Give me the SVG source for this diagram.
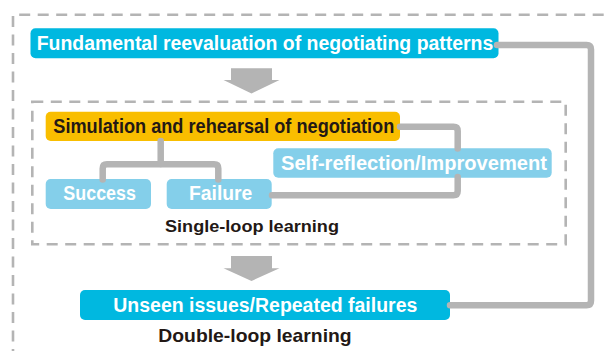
<svg xmlns="http://www.w3.org/2000/svg" width="606" height="351" viewBox="0 0 606 351">
  <style>
    .frame { fill: none; stroke: #b4b4b4; stroke-width: 2.6; stroke-dasharray: 11 7.5; }
    .wire { fill: none; stroke: #b4b4b4; stroke-width: 6.5; stroke-linecap: round; stroke-linejoin: round; }
    .block { fill: #b4b4b4; }
    .cyan { fill: #00b8e0; }
    .sky { fill: #84cfea; }
    .gold { fill: #f9be00; }
    text { font-family: "Liberation Sans", Arial, sans-serif; font-weight: bold; }
    .lbl { font-size: 19.5px; fill: #ffffff; }
    .lbl-dark { font-size: 19.5px; fill: #231815; }
    .cap { fill: #231815; }
  </style>

  <!-- dashed frames: double loop (outer, open to the right/bottom) and single loop (inner) -->
  <g id="frames">
    <path class="frame" d="M 13 360 V 14.7 H 620"/>
    <rect class="frame" x="32.3" y="101.7" width="533.4" height="142.6"/>
  </g>

  <!-- downward block arrows -->
  <g id="flow-arrows">
    <polygon class="block" points="231,68.3 272,68.3 272,80 279.5,80 251.5,93.5 223.5,80 231,80"/>
    <polygon class="block" points="231,256 272,256 272,268.3 279.5,268.3 251.5,281 223.5,268.3 231,268.3"/>
  </g>

  <g id="node-fundamental">
    <rect class="cyan" x="30.5" y="28.3" width="468" height="30" rx="5"/>
    <text class="lbl" x="36.7" y="50" textLength="456.6" lengthAdjust="spacingAndGlyphs">Fundamental reevaluation of negotiating patterns</text>
  </g>

  <g id="node-simulation">
    <rect class="gold" x="45.7" y="111.7" width="354.3" height="29.3" rx="5"/>
    <text class="lbl-dark" x="53.3" y="132.7" textLength="341" lengthAdjust="spacingAndGlyphs">Simulation and rehearsal of negotiation</text>
  </g>

  <g id="node-self-reflection">
    <rect class="sky" x="273.3" y="148.3" width="278.4" height="29.4" rx="5"/>
    <text class="lbl" x="281" y="170" textLength="266" lengthAdjust="spacingAndGlyphs">Self-reflection/Improvement</text>
  </g>

  <g id="node-success">
    <rect class="sky" x="45.7" y="179" width="105.3" height="30" rx="5"/>
    <text class="lbl" x="63.3" y="200" textLength="72.7" lengthAdjust="spacingAndGlyphs">Success</text>
  </g>

  <g id="node-failure">
    <rect class="sky" x="166.7" y="179" width="105" height="30" rx="5"/>
    <text class="lbl" x="189" y="200" textLength="63.3" lengthAdjust="spacingAndGlyphs">Failure</text>
  </g>

  <g id="node-unseen">
    <rect class="cyan" x="80" y="290" width="370" height="30" rx="5"/>
    <text class="lbl" x="113.3" y="312.3" textLength="304" lengthAdjust="spacingAndGlyphs">Unseen issues/Repeated failures</text>
  </g>

  <!-- loop captions -->
  <g id="caption-single">
    <text class="cap" x="165" y="232.3" font-size="17" textLength="174" lengthAdjust="spacingAndGlyphs">Single-loop learning</text>
  </g>
  <g id="caption-double">
    <text class="cap" x="158.3" y="341.7" font-size="18.5" textLength="193.4" lengthAdjust="spacingAndGlyphs">Double-loop learning</text>
  </g>

  <!-- connectors -->
  <g id="connectors">
    <path class="wire" d="M 160.7 141 V 164"/>
    <path class="wire" d="M 102.7 179.5 V 168.5 Q 102.7 164.3 106.9 164.3 H 214.1 Q 218.3 164.3 218.3 168.5 V 179.5"/>
    <path class="wire" d="M 400 126.7 H 453.5 Q 457.7 126.7 457.7 130.9 V 148.5"/>
    <path class="wire" d="M 272 195.3 H 453.5 Q 457.7 195.3 457.7 191.1 V 177"/>
    <path class="wire" d="M 450 305.3 H 586.5 Q 591 305.3 591 300.8 V 49.5 Q 591 45 586.5 45 H 497"/>
  </g>
</svg>
